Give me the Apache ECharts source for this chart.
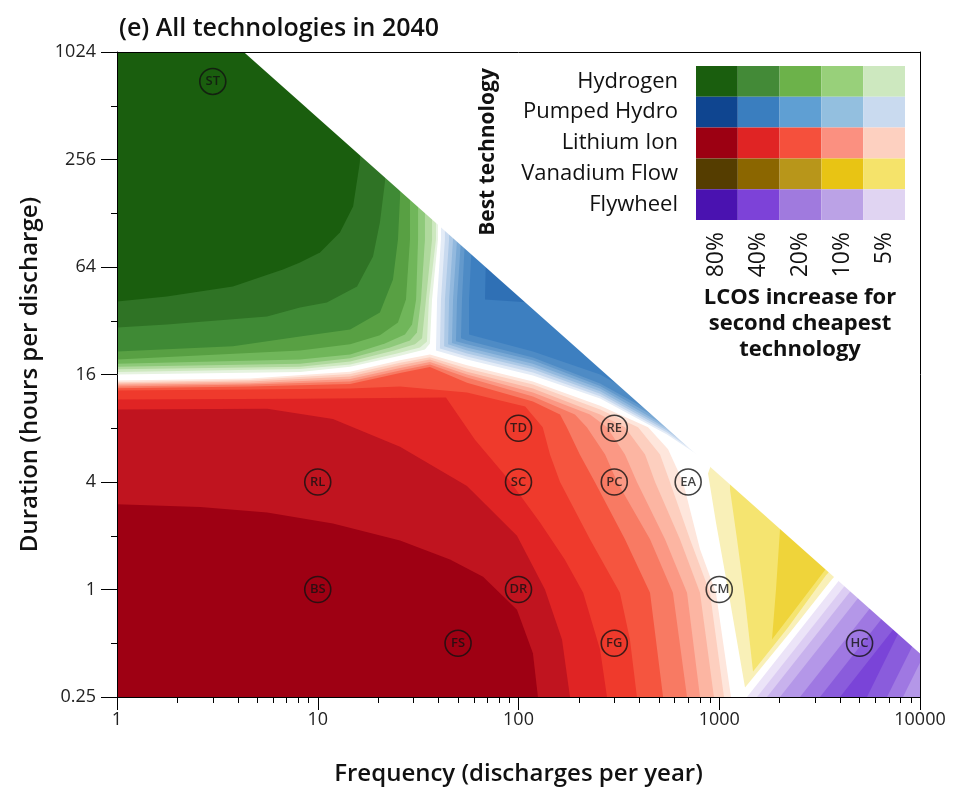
<!DOCTYPE html>
<html>
<head>
<meta charset="utf-8">
<title>All technologies in 2040</title>
<script src="https://cdn.jsdelivr.net/npm/echarts@6/dist/echarts.min.js"></script>
<style>
  html, body { margin: 0; padding: 0; background: #fff; }
  #chart { width: 958px; height: 792px; }
</style>
</head>
<body>
<div id="chart"></div>
<script>
// Contour bands, as [frequency (discharges/yr), duration (h)].
// Each technology goes from its palest (outermost) band to its darkest (innermost).
const hydrogenBands = [
  [[1,16],[8.16,16.5],[14.5,17.7],[25.7,20.4],[34.2,22.1],[36.2,23.9],[37.1,42.1],[39.7,91.3],[39.7,1024]],
  [[1,16.5],[8.16,17.2],[14.5,18.2],[24.8,21],[32.3,22.7],[35,24.5],[35.8,42.1],[38.8,91.3],[38.8,1024]],
  [[1,17.1],[8.16,17.7],[14.5,18.9],[24,21.8],[30.5,23.6],[33.1,25.5],[34.6,42.1],[37.1,91.3],[37.1,1024]],
  [[1,17.7],[8.16,18.4],[14.5,19.7],[22.9,22.7],[28.8,24.8],[31.2,27.5],[32.7,42.1],[34.2,91.3],[34.2,1024]],
  [[1,18.4],[8.16,19.4],[14.5,20.7],[21.6,23.9],[27.2,26.8],[29.5,30.5],[30.9,42.1],[31.6,91.3],[31.6,1024]],
  [[1,19.4],[8.16,21.8],[14.5,23.6],[20.4,26.5],[25.1,31.3],[27.5,42.1],[28.8,91.3],[28.8,1024]],
  [[1,21.5],[3.78,23],[8.16,26.1],[14.5,28.6],[20.4,35.6],[23.7,54.5],[25.1,91.3],[25.7,159],[26.3,1024]],
  [[1,29.3],[1.77,30.5],[5.59,33.8],[8.16,38],[11.1,40.5],[15.7,49.8],[18.85,73.3],[20.4,113.6],[21.6,190],[22.9,1024]],
  [[1,41],[1.77,43.7],[3.78,49.8],[6.71,62],[8.16,67.8],[10.26,77.2],[12.9,99.9],[15,139.6],[16.2,246],[17.4,1024]]
];
const pumpedHydroBands = [
  [[41.1,153],[41.1,91.3],[39.3,42.1],[38.8,21.8],[55.4,19.4],[118,15.8],[255,11.74],[549,7.38],[849,5.35],[849,555]],
  [[43,153],[43,91.3],[41.1,42.1],[40.6,22.4],[55.4,20.2],[118,16.4],[255,12.1],[549,7.58],[849,5.42],[849,555]],
  [[45.1,153],[45.1,91.3],[43,42.1],[42.6,23],[55.4,21],[118,17.1],[255,12.5],[549,7.77],[849,5.49],[849,555]],
  [[47.2,153],[47.2,91.3],[45.1,42.1],[44.6,23.6],[55.4,21.8],[118,17.7],[255,12.9],[549,7.97],[849,5.56],[849,555]],
  [[49.4,153],[49.4,91.3],[47.2,42.1],[46.6,24],[55.4,22.7],[118,18.4],[255,13.36],[549,8.18],[849,5.63],[849,555]],
  [[51.7,153],[51.7,91.3],[49.4,42.1],[48.8,24.6],[55.4,23.6],[118,19.2],[255,13.8],[549,8.5],[849,5.78],[849,555]],
  [[54.1,153],[54.1,91.3],[52.3,42.1],[51.7,25.5],[55.4,24.8],[118,19.9],[255,14.25],[549,8.84],[849,5.93],[849,555]],
  [[58.7,153],[58.7,91.3],[56.7,42.1],[56.7,26.8],[118,21.5],[255,16],[549,9.93],[849,6.24],[849,555]],
  [[69.7,153],[68.1,42.1],[114.1,40.5],[255,28.6],[549,12.4],[849,6.92],[849,555]]
];
const lithiumIonBands = [
  [[1,14.8],[4.6,15.2],[14.5,16.6],[25.7,19.2],[36.2,20.7],[55.4,18],[118,14.6],[255,10.7],[442,8.1],[556,6.1],[660,4],[802,1.68],[963,0.96],[1144,0.25]],
  [[1,14.5],[4.6,14.9],[14.5,16.1],[25.7,18.6],[36.2,20],[55.4,17.3],[118,14.06],[255,10.2],[394,8.1],[507,5.7],[568,4],[715,1.91],[899,0.96],[1056,0.25]],
  [[1,14.25],[4.6,14.6],[14.5,15.6],[25.7,18],[36.2,19.4],[55.4,16.6],[118,13.36],[255,9.55],[339,8.1],[427,5.7],[479,4],[637,1.91],[802,0.96],[941,0.25]],
  [[1,14],[4.6,14.3],[14.5,15.1],[25.7,17.4],[36.2,18.8],[55.4,16],[118,12.7],[227,9.55],[276,8.1],[339,5.7],[389,4],[537,1.91],[691,0.96],[802,0.25]],
  [[1,13.7],[4.6,14.06],[14.5,14.6],[25.7,16.85],[36.2,18.2],[55.4,15.4],[118,12.05],[191,9.55],[219,8.1],[270,5.7],[310,4],[452,1.91],[588,0.96],[691,0.25]],
  [[1,13.4],[4.6,13.7],[14.5,14.15],[25.7,16.3],[36.2,17.6],[55.4,14.4],[118,11.3],[161,9.55],[174,8.1],[202,5.7],[240,4],[339,1.91],[452,0.96],[525,0.25]],
  [[1,13],[4.6,13.2],[14.5,13.36],[25.7,13.7],[55.4,12.7],[108,10.6],[132,8.1],[143.5,5.7],[161,4],[227,1.91],[320,0.96],[359,0.525],[389,0.25]],
  [[1,11.6],[8.2,11.7],[43.5,11.9],[60.7,6.9],[89.7,4.1],[128,2.37],[170,1.47],[210,0.96],[255,0.46],[276,0.25]],
  [[1,10.2],[5.6,10.3],[11.9,9],[25.7,6.3],[55.4,3.8],[98.3,2],[135.5,1],[164.7,0.525],[180.5,0.25]],
  [[1,3],[2.6,2.9],[5.6,2.7],[11.9,2.34],[25.7,1.88],[45.6,1.47],[66.6,1.18],[98.3,0.77],[118,0.44],[125,0.25]]
];
const vanadiumBands = [
  [[879,4.46],[963,2.37],[1106,1],[1344,0.283],[2251,0.574],[3644,1.14],[4481,1.47],[1009,6.92]],
  [[1131,4.7],[1131,3.63],[1226,1.91],[1344,0.879],[1473,0.347],[2200,0.613],[3402,1.2],[4230,1.57]],
  [[2007,3.19],[2007,2.17],[1917,1],[1831,0.525],[2384,0.773],[3104,1.14],[3816,1.55]]
];
const flywheelBands = [
  [[1375,0.25],[4481,1.345],[15820,1.345],[15820,0.25]],
  [[1542,0.25],[5025,1.345],[15820,1.345],[15820,0.25]],
  [[1729,0.25],[5636,1.345],[15820,1.345],[15820,0.25]],
  [[2007,0.25],[6542,1.345],[15820,1.345],[15820,0.25]],
  [[2525,0.25],[8228,1.345],[17340,1.345],[8228,0.25]],
  [[3176,0.25],[10350,1.345],[14430,1.345],[6848,0.25]],
  [[3996,0.25],[9124,0.813],[5445,0.25]]
];
// more than 4380 h of discharge a year is impossible: left blank
const infeasible = [[4.28,1024],[10000,1024],[10000,0.438]];

const siteNames = ['ST','TD','RE','RL','SC','PC','EA','BS','DR','CM','FS','FG','HC'];
const siteFreq = [3,100,300,10,100,300,700,10,100,1000,50,300,5000];
const siteHours = [700,8,8,4,4,4,4,1,1,1,0.5,0.5,0.5];

const techNames = ['Hydrogen','Pumped Hydro','Lithium Ion','Vanadium Flow','Flywheel'];
const levelLabels = ['80%','40%','20%','10%','5%'];

// colours
const hydrogenColors = ['#e6f3e0','#cde8bf','#b0d99e','#8ec97a','#70b65a','#58a043','#3f8a35','#2f7325','#1a5e0e'];
const pumpedHydroColors = ['#e4ecf7','#c9daef','#adc9e6','#93b9de','#7aa9d5','#6399cc','#4e8bc5','#3d7fc0','#2f70b5'];
const lithiumIonColors = ['#fee6dc','#fdcfbf','#fcb5a2','#fb9884','#f87a63','#f5553f','#ef3a2c','#e02424','#c0141f','#9e0013'];
const vanadiumColors = ['#f9f0b8','#f5e470','#efd43a'];
const flywheelColors = ['#ece4f8','#dccdf3','#c8b2ed','#b497e8','#9f78e2','#8a5cdc','#7a44d8'];
const legendColors = [
  ['#1a5e0e','#438a37','#6cb24a','#98d07a','#cde8bf'],
  ['#0f4590','#3a7ebf','#5f9fd3','#93bfdf','#c9daef'],
  ['#9c0012','#e02424','#f5503c','#fb9080','#fdd0c0'],
  ['#553d00','#8b6600','#b8961a','#e8c414','#f5e36a'],
  ['#4a12b0','#7d42d8','#a07ade','#bba2e6','#e0d4f2']
];

const FONT = '"Open Sans", Lato, sans-serif';

const layers = [];
function addBands(bands, colors, corner) {
  bands.forEach((pts, i) => {
    layers.push({ pts: corner ? pts.concat([corner]) : pts, color: colors[i] });
  });
}
addBands(hydrogenBands, hydrogenColors, [1, 1024]);
addBands(pumpedHydroBands, pumpedHydroColors, null);
addBands(lithiumIonBands, lithiumIonColors, [1, 0.25]);
addBands(vanadiumBands, vanadiumColors, null);
addBands(flywheelBands, flywheelColors, null);
layers.push({ pts: infeasible, color: '#ffffff' });

const xMinor = [];
[1, 10, 100, 1000].forEach(d => { for (let k = 2; k <= 9; k++) xMinor.push(k * d); });
const yMinor = [0.5, 2, 8, 32, 128, 512];

const legendCells = [];
techNames.forEach((t, r) => levelLabels.forEach((l, c) => legendCells.push([c, r])));

const numLabel = v => String(+Number(v).toPrecision(6));
const nameStyle = { fontSize: 24, fontWeight: 600, color: '#111', fontFamily: FONT };
const borderAxis = {
  gridIndex: 0, type: 'value', min: 0, max: 1, z: 5,
  axisLine: { show: true, onZero: false, lineStyle: { color: '#000', width: 1 } },
  axisTick: { show: false }, axisLabel: { show: false }, splitLine: { show: false }
};

const chart = echarts.init(document.getElementById('chart'));
chart.setOption({
  animation: false,
  backgroundColor: '#fff',
  title: {
    text: '(e) All technologies in 2040',
    left: 114, top: 11,
    textStyle: { fontSize: 25, fontWeight: 600, color: '#111', fontFamily: FONT }
  },
  grid: [
    { left: 117, right: 38, top: 52, bottom: 95 },
    { left: 696, top: 66, width: 209, height: 154 }
  ],
  xAxis: [
    {
      gridIndex: 0, type: 'log', logBase: 10, min: 1, max: 10000, splitNumber: 4,
      position: 'bottom', z: 5,
      axisLine: { onZero: false, lineStyle: { color: '#000', width: 1 } },
      axisTick: { length: 13, lineStyle: { color: '#000' } },
      axisLabel: { fontSize: 18, color: '#222', margin: 14, fontFamily: FONT, formatter: numLabel },
      splitLine: { show: false },
      name: 'Frequency (discharges per year)', nameLocation: 'middle', nameGap: 65,
      nameTextStyle: nameStyle
    },
    {
      gridIndex: 0, type: 'log', logBase: 10, min: 1, max: 10000, position: 'bottom', z: 5,
      axisLine: { show: false }, axisLabel: { show: false }, splitLine: { show: false },
      axisTick: { length: 6, customValues: xMinor, lineStyle: { color: '#000' } }
    },
    Object.assign({ position: 'top' }, borderAxis),
    {
      gridIndex: 1, type: 'category', data: levelLabels, position: 'bottom', z: 20,
      axisLine: { show: false }, axisTick: { show: false }, splitLine: { show: false },
      axisLabel: { rotate: 90, fontSize: 23, color: '#111', margin: 12, fontFamily: FONT }
    }
  ],
  yAxis: [
    {
      gridIndex: 0, type: 'log', logBase: 4, min: 0.25, max: 1024, splitNumber: 6,
      position: 'left', z: 5,
      axisLine: { onZero: false, lineStyle: { color: '#000', width: 1 } },
      axisTick: { length: 16, lineStyle: { color: '#000' } },
      axisLabel: { fontSize: 18, color: '#222', margin: 21, fontFamily: FONT, formatter: numLabel },
      splitLine: { show: false },
      name: 'Duration (hours per discharge)', nameLocation: 'middle', nameRotate: 90, nameGap: 75,
      nameTextStyle: nameStyle
    },
    {
      gridIndex: 0, type: 'log', logBase: 4, min: 0.25, max: 1024, position: 'left', z: 5,
      axisLine: { show: false }, axisLabel: { show: false }, splitLine: { show: false },
      axisTick: { length: 6, customValues: yMinor, lineStyle: { color: '#000' } }
    },
    Object.assign({ position: 'right' }, borderAxis),
    {
      gridIndex: 1, type: 'category', data: techNames, inverse: true, z: 20,
      axisLine: { show: false }, axisTick: { show: false }, splitLine: { show: false },
      axisLabel: { fontSize: 22, color: '#111', margin: 18, fontFamily: FONT }
    }
  ],
  graphic: [
    {
      type: 'text', x: 488, y: 152, rotation: Math.PI / 2, z: 100,
      style: { text: 'Best technology', fontSize: 21, fontWeight: 'bold', fontFamily: FONT,
               fill: '#111', align: 'center', verticalAlign: 'middle' }
    },
    {
      type: 'text', x: 800, y: 324, z: 100,
      style: { text: 'LCOS increase for\nsecond cheapest\ntechnology', fontSize: 22, fontWeight: 'bold',
               fontFamily: FONT, fill: '#111', align: 'center', verticalAlign: 'middle', lineHeight: 26 }
    }
  ],
  series: [
    {
      type: 'custom', xAxisIndex: 0, yAxisIndex: 0, silent: true, z: 1,
      data: layers.map((l, i) => [1, 1, i]),
      renderItem: (params, api) => {
        const layer = layers[params.dataIndex];
        const cs = params.coordSys;
        return {
          type: 'polygon',
          shape: { points: layer.pts.map(p => api.coord(p)) },
          style: { fill: layer.color },
          clipPath: { type: 'rect', shape: { x: cs.x, y: cs.y, width: cs.width, height: cs.height } }
        };
      }
    },
    {
      type: 'scatter', xAxisIndex: 0, yAxisIndex: 0, silent: true, z: 10,
      data: siteNames.map((n, i) => [siteFreq[i], siteHours[i], n]),
      symbol: 'circle', symbolSize: 26,
      itemStyle: { color: 'rgba(255,255,255,0)', borderColor: '#111', borderWidth: 1.6 },
      label: {
        show: true, position: 'inside', formatter: p => p.value[2],
        color: '#111', fontSize: 13, fontWeight: 600, fontFamily: FONT
      }
    },
    {
      type: 'custom', xAxisIndex: 3, yAxisIndex: 3, silent: true, z: 10,
      data: legendCells,
      renderItem: (params, api) => {
        const c = api.value(0), r = api.value(1);
        const pt = api.coord([c, r]);
        const size = api.size([1, 1]);
        return {
          type: 'rect',
          shape: { x: pt[0] - size[0] / 2, y: pt[1] - size[1] / 2, width: size[0], height: size[1] },
          style: { fill: legendColors[r][c] }
        };
      }
    }
  ]
});
</script>
</body>
</html>
